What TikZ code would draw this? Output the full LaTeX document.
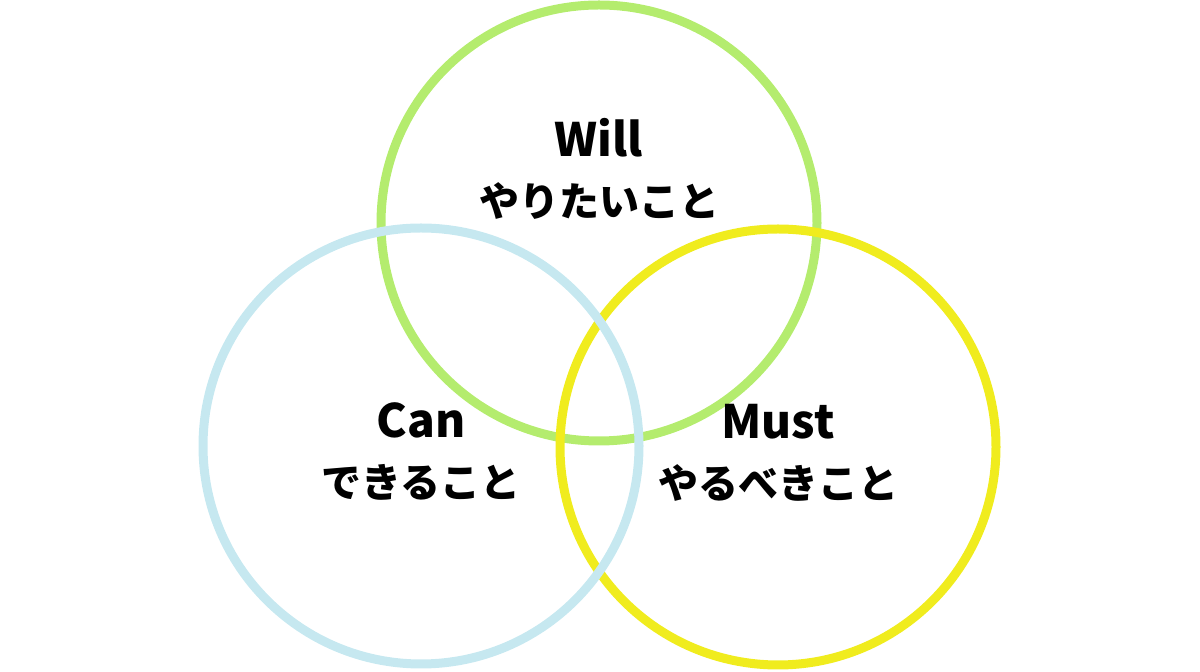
\documentclass[tikz,border=0pt]{standalone}
\usepackage{fontspec}
\newfontfamily\jpfont{Noto Sans CJK JP Black}
\usetikzlibrary{positioning}
\definecolor{willgreen}{HTML}{B4EC6E}
\definecolor{canblue}{HTML}{C6E8F0}
\definecolor{mustyellow}{HTML}{F0EC1E}
\newcommand{\headword}[1]{{\fontsize{23pt}{30pt}\selectfont #1}}

\begin{document}
\begin{tikzpicture}[x=0.5pt,y=-0.5pt,
		ring/.style={circle,draw,line width=4.5pt,minimum size=218pt,inner sep=0pt},
		caption/.style={align=center,font=\jpfont\fontsize{20pt}{30pt}\selectfont}]
		\useasboundingbox (0,0) rectangle (1200,672);
		% circles: green below, blue on top
		\node[ring,draw=willgreen] (will) at (599,223) {};
		\node[ring,draw=mustyellow] (must) at (778,447) {};
		\node[ring,draw=canblue] (can) at (421,446) {};
		% texts
		\node[caption,above=0pt of will.center,yshift=-2pt] (willtext) {\headword{Will}\\やりたいこと};
		\node[caption,below=0pt of can.center,yshift=25pt] (cantext) {\headword{Can}\\できること};
		\node[caption,below=0pt of must.center,yshift=25pt] (musttext) {\headword{Must}\\やるべきこと};
	\end{tikzpicture}
\end{document}
